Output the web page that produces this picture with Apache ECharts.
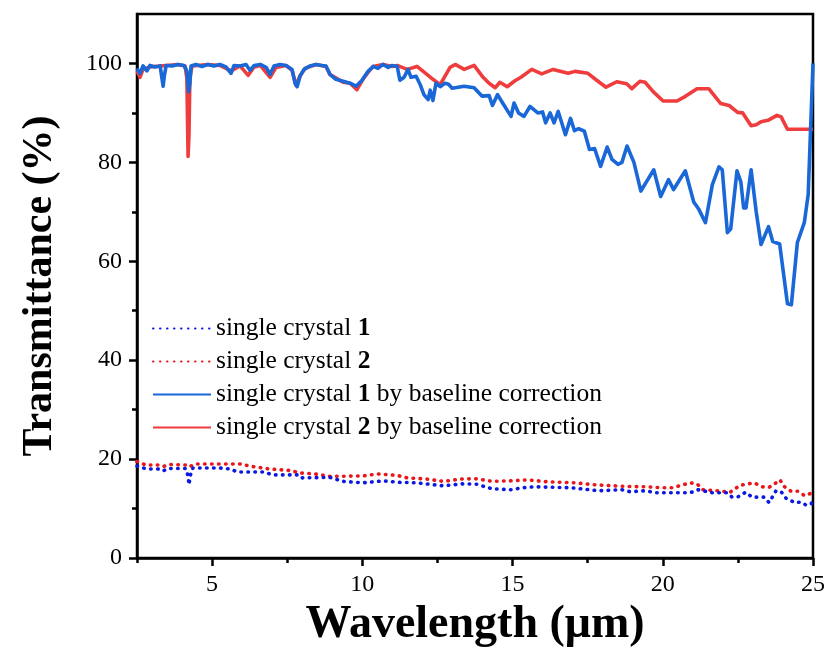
<!DOCTYPE html>
<html>
<head>
<meta charset="utf-8">
<script src="https://cdn.jsdelivr.net/npm/echarts@6/dist/echarts.min.js"></script>
<style>
  html, body { margin: 0; padding: 0; background: #fff; }
  #chart { width: 829px; height: 664px; }
</style>
</head>
<body>
<div id="chart"></div>
<script>
// Transmittance spectra of the two single crystals, raw and baseline-corrected.

// Baseline-corrected spectrum, crystal 1
const corr1Wavelength = [2.5,2.6,2.7,2.83,2.93,3.1,3.27,3.33,3.37,3.41,3.47,3.67,3.86,4.06,4.16,4.22,4.26,4.3,4.46,4.66,4.86,5.06,5.26,5.46,5.63,5.73,5.93,6.13,6.26,6.4,6.6,6.8,6.93,7.06,7.26,7.46,7.66,7.76,7.83,7.93,8.06,8.26,8.46,8.66,8.79,8.92,9.12,9.36,9.59,9.79,9.99,10.19,10.36,10.52,10.69,10.86,10.99,11.16,11.25,11.39,11.52,11.62,11.79,11.92,12.05,12.19,12.26,12.35,12.45,12.59,12.75,12.87,12.99,13.39,13.72,13.98,14.22,14.33,14.5,14.67,14.95,15.05,15.2,15.38,15.58,15.64,15.84,16.0,16.1,16.25,16.38,16.52,16.76,16.93,17.06,17.2,17.39,17.56,17.73,17.93,18.15,18.31,18.51,18.64,18.81,19.04,19.27,19.47,19.7,19.93,20.19,20.36,20.75,21.03,21.2,21.42,21.65,21.87,21.98,22.15,22.26,22.47,22.6,22.69,22.77,22.94,23.11,23.27,23.52,23.66,23.89,24.15,24.28,24.48,24.71,24.84,25];
const corr1Transmittance = [99,98,99.5,98.5,99.6,99.3,99.5,97,95.4,97.5,99.6,99.5,99.8,99.6,98.5,94.3,96,99.5,99.8,99.4,99.8,99.5,99.8,99.3,98,99.6,99.5,99.8,98.6,99.6,99.8,99.2,97.8,99.5,99.8,99.6,98.8,96,95.3,97.5,98.8,99.5,99.8,99.6,99.5,97.8,96.8,96.4,96,95.4,96.6,98.4,99.4,99,99.8,99.2,99.6,99.4,96.6,97.2,98.8,97.2,97.4,95.8,93.7,92.7,94.6,92.5,96,95.3,96,95.8,95,95.4,95.1,93.4,93.5,91.5,93.7,92,89.3,92,90,89.3,91.3,91.4,90,90.2,88,90,88,90.3,85.6,88.9,86.4,86.8,86.3,82.6,82.8,79.2,83.1,80.6,79.6,80,83.3,80,74.2,76.2,78.5,73.1,76.5,74.5,78.3,72,70.5,67.8,75.5,79.1,78.5,65.8,66.5,78.3,76,70.8,70.8,78.5,70,63.4,67,64,63.5,51.4,51.2,63.8,67.8,73.5,100];

// Baseline-corrected spectrum, crystal 2
const corr2Wavelength = [2.5,2.6,2.7,2.93,3.27,3.47,3.86,4.1,4.16,4.2,4.23,4.26,4.33,4.86,5.26,5.63,5.93,6.2,6.4,6.6,6.93,7.13,7.46,7.66,7.79,7.93,8.09,8.46,8.79,8.92,9.36,9.59,9.82,10.02,10.19,10.36,10.69,10.99,11.16,11.49,11.82,12.15,12.35,12.59,12.92,13.09,13.39,13.72,14.02,14.22,14.42,14.58,14.82,15.08,15.28,15.64,15.97,16.35,16.85,17.08,17.51,17.8,18.11,18.47,18.8,18.97,19.24,19.41,19.68,20.01,20.47,20.74,21.14,21.53,21.93,22.21,22.49,22.66,22.94,23.11,23.27,23.5,23.8,23.94,24.15,25];
const corr2Transmittance = [98.5,97.2,98.8,99.3,99.5,99.6,99.8,99.5,97,81.2,85.6,97,99.5,99.8,99.6,98.5,99.5,97.6,99.3,99.6,97.2,99.2,99.6,98.6,95.6,97.5,99,99.8,99.4,97.8,96.2,96,94.7,96.8,98.2,99.4,99.8,99.4,99.6,98.8,99.4,97.8,96.8,95.7,99.2,99.8,98.8,99.6,97.2,96,95.1,96.2,95.3,96.5,97.2,98.8,97.9,98.8,98,98.4,98,96.6,95.2,96.3,95.9,94.9,96.4,96.2,94.3,92.4,92.4,93.3,94.9,94.9,91.9,91.5,90.1,90,87.4,87.6,88.2,88.5,89.5,89.2,86.7,86.7];

// Raw spectrum, crystal 1
const raw1Wavelength = [2.5,2.7,2.93,3.2,3.37,3.53,3.86,4.13,4.2,4.23,4.28,4.36,5.26,5.6,5.83,6.69,7.03,7.83,7.93,8.92,9.36,10.02,10.69,11.25,11.82,12.69,13.35,13.82,14.08,14.32,14.98,15.32,15.72,16.96,17.86,18.64,18.91,19.41,19.78,20.23,20.91,21.18,21.64,22.14,22.31,22.51,22.76,22.97,23.37,23.54,23.77,23.94,24.1,24.39,24.6,24.77,24.94,25];
const raw1Transmittance = [18.6,18.2,18.0,18.0,17.6,18.1,18.1,18.1,16.5,14.8,16.8,18.2,18.2,18.0,17.4,17.4,16.8,16.8,16.2,16.3,15.5,15.2,15.6,15.3,15.2,14.6,15.0,14.9,14.4,14.0,13.8,14.2,14.4,14.2,13.6,13.8,13.4,13.6,13.2,13.2,13.2,13.8,13.2,13.2,12.3,12.4,13.3,12.3,12.3,11.2,13.6,13.4,12.1,11.2,11.3,10.7,10.9,12];

// Raw spectrum, crystal 2
const raw2Wavelength = [2.5,2.63,2.8,3.2,3.37,3.6,4.13,4.23,4.43,5.93,6.43,6.93,7.59,7.93,8.43,8.92,10.02,10.52,11.16,11.49,12.09,12.69,13.35,13.82,14.32,14.92,15.5,16.18,17.08,17.75,18.64,19.44,20.01,20.31,20.61,20.91,21.14,21.34,21.81,22.24,22.57,23.04,23.31,23.54,23.77,23.9,24.03,24.27,24.5,24.72,24.94];
const raw2Transmittance = [19.5,19.2,18.8,18.8,18.5,18.9,18.8,18.4,19.0,19.0,18.4,18.0,17.7,17.2,17.0,16.5,16.6,17.0,16.7,16.2,16.0,15.5,16.0,16.0,15.5,15.6,15.8,15.4,15.2,14.8,14.5,14.4,14.2,14.2,14.7,15.2,15.0,13.8,13.6,13.3,14.7,15.2,14.4,14.3,15.2,15.8,14.5,13.5,13.5,12.6,13.1];

// Axis ticks
const xMajorTicks = [5, 10, 15, 20, 25];
const xMinorTicks = [2.5, 7.5, 12.5, 17.5, 22.5];
const yMajorTicks = [0, 20, 40, 60, 80, 100];
const yMinorTicks = [10, 30, 50, 70, 90];

const seriesNames = [
  'single crystal 1',
  'single crystal 2',
  'single crystal 1 by baseline correction',
  'single crystal 2 by baseline correction'
];

const zip = (xs, ys) => xs.map((x, i) => [x, ys[i]]);

const serif = 'Liberation Serif, Times New Roman, serif';

const axisLineStyle = { color: '#000', width: 2.5 };

function majorX() {
  return {
    type: 'value', gridIndex: 0, position: 'bottom', min: 2.5, max: 25,
    axisLine: { show: true, lineStyle: axisLineStyle },
    axisTick: { show: true, customValues: xMajorTicks, length: 8, lineStyle: { color: '#000', width: 2.5 } },
    axisLabel: { show: true, customValues: xMajorTicks, fontFamily: serif, fontSize: 24, color: '#000', margin: 15 },
    splitLine: { show: false },
    name: 'Wavelength (μm)', nameLocation: 'middle', nameGap: 37,
    nameTextStyle: { fontFamily: serif, fontSize: 46, fontWeight: 'bold', color: '#000' }
  };
}
function minorX() {
  return {
    type: 'value', gridIndex: 0, position: 'bottom', min: 2.5, max: 25,
    axisLine: { show: false },
    axisTick: { show: true, customValues: xMinorTicks, length: 5, lineStyle: { color: '#000', width: 2.5 } },
    axisLabel: { show: false },
    splitLine: { show: false }
  };
}
function majorY() {
  return {
    type: 'value', gridIndex: 0, position: 'left', min: 0, max: 110,
    axisLine: { show: true, lineStyle: axisLineStyle },
    axisTick: { show: true, customValues: yMajorTicks, length: 8, lineStyle: { color: '#000', width: 2.5 } },
    axisLabel: { show: true, customValues: yMajorTicks, fontFamily: serif, fontSize: 24, color: '#000', margin: 15 },
    splitLine: { show: false },
    name: 'Transmittance (%)', nameLocation: 'middle', nameGap: 76,
    nameTextStyle: { fontFamily: serif, fontSize: 42, fontWeight: 'bold', color: '#000' }
  };
}
function minorY() {
  return {
    type: 'value', gridIndex: 0, position: 'left', min: 0, max: 110,
    axisLine: { show: false },
    axisTick: { show: true, customValues: yMinorTicks, length: 5, lineStyle: { color: '#000', width: 2.5 } },
    axisLabel: { show: false },
    splitLine: { show: false }
  };
}

// round-capped short dashes render as a row of dots
const dotted = [0.5, 6.5];

const option = {
  animation: false,
  backgroundColor: '#fff',
  grid: {
    left: 137, right: 16, top: 14, bottom: 106,
    show: true, borderColor: '#000', borderWidth: 2.5,
    outerBoundsMode: 'none'
  },
  xAxis: [majorX(), minorX()],
  yAxis: [majorY(), minorY()],
  legend: {
    orient: 'vertical', left: 147, top: 310,
    itemWidth: 58, itemHeight: 14, itemGap: 6,
    itemStyle: { opacity: 0 },
    textStyle: {
      fontFamily: serif, fontSize: 25.5, color: '#000', lineHeight: 27,
      rich: { b: { fontFamily: serif, fontSize: 25.5, fontWeight: 'bold', color: '#000' } }
    },
    formatter: name => name.replace(/ ([12])( |$)/, ' {b|$1}$2'),
    data: seriesNames
  },
  series: [
    {
      name: seriesNames[0], type: 'line', showSymbol: false, symbol: 'none',
      data: zip(raw1Wavelength, raw1Transmittance),
      lineStyle: { color: '#0b18e0', width: 3.6, type: dotted, cap: 'round' },
      itemStyle: { color: '#0b18e0' }, z: 3
    },
    {
      name: seriesNames[1], type: 'line', showSymbol: false, symbol: 'none',
      data: zip(raw2Wavelength, raw2Transmittance),
      lineStyle: { color: '#e8171c', width: 3.6, type: dotted, cap: 'round' },
      itemStyle: { color: '#e8171c' }, z: 2
    },
    {
      name: seriesNames[2], type: 'line', showSymbol: false, symbol: 'none',
      data: zip(corr1Wavelength, corr1Transmittance),
      lineStyle: { color: '#1a67d8', width: 3.6, join: 'round' },
      itemStyle: { color: '#1a67d8' }, z: 5
    },
    {
      name: seriesNames[3], type: 'line', showSymbol: false, symbol: 'none',
      data: zip(corr2Wavelength, corr2Transmittance),
      lineStyle: { color: '#ef3d3d', width: 3.6, join: 'round' },
      itemStyle: { color: '#ef3d3d' }, z: 4
    }
  ]
};

const chart = echarts.init(document.getElementById('chart'), null, { renderer: 'canvas' });
chart.setOption(option);
</script>
</body>
</html>
